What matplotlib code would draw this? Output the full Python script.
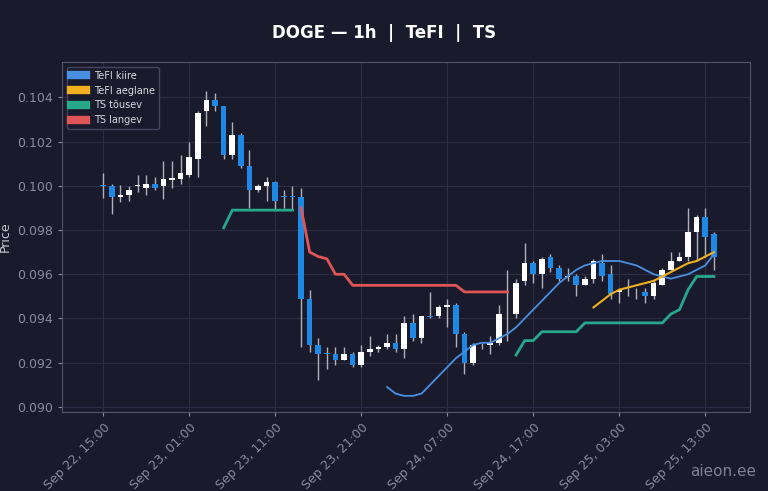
import matplotlib
matplotlib.use("Agg")
import matplotlib.pyplot as plt
import numpy as np
import pandas as pd

opens  = [0.1000,0.1000,0.0995,0.0996,0.09998,0.0999,0.1001,0.1000,0.10025,0.1003,0.1005,0.1012,0.1034,0.1039,0.1036,0.1014,0.1023,0.1009,0.0998,0.1000,0.10015,0.09952,0.09952,0.0995,
          0.0949,0.0928,0.0924,0.0924,0.0921,0.0924,0.0919,0.0925,0.0926,0.0927,0.0929,0.0926,0.0938,0.0931,0.09412,0.0941,0.0945,0.0946,0.0933,0.0920,0.09282,0.0928,0.0929,0.09422,
          0.0942,0.0957,0.0965,0.0960,0.0968,0.0963,0.09588,0.0959,0.0955,0.0958,0.0965,0.0960,0.0952,0.09518,0.09522,0.0952,0.0950,0.0955,0.0962,0.0966,0.0968,0.0979,0.0986,0.0978]
closes = [0.09998,0.0995,0.0996,0.0998,0.10002,0.10008,0.0999,0.1003,0.10035,0.1006,0.1013,0.1033,0.1039,0.1036,0.1014,0.1023,0.1009,0.0998,0.1000,0.10015,0.0993,0.09948,0.09948,0.0949,
          0.0928,0.0924,0.09238,0.0921,0.0924,0.0919,0.0925,0.0926,0.0927,0.0929,0.0926,0.0938,0.0931,0.0941,0.09408,0.0945,0.0946,0.0933,0.0920,0.0928,0.09278,0.0929,0.0942,0.09418,
          0.0956,0.0965,0.0960,0.0967,0.0963,0.0958,0.09592,0.0955,0.0958,0.0966,0.0959,0.0951,0.0953,0.09522,0.09518,0.0950,0.0956,0.0962,0.0966,0.0968,0.0979,0.0986,0.0977,0.0968]
highs  = [0.10057,0.1001,0.10002,0.1000,0.1005,0.1005,0.1004,0.1011,0.1011,0.1014,0.1020,0.1034,0.1043,0.1042,0.1036,0.1029,0.1024,0.1016,0.1001,0.1004,0.1002,0.0998,0.1000,0.0999,
          0.0953,0.0931,0.0927,0.0927,0.0927,0.0925,0.0928,0.0932,0.0928,0.0933,0.0933,0.0941,0.0942,0.0941,0.0952,0.0946,0.0949,0.0947,0.0934,0.0929,0.0929,0.0932,0.0946,0.0962,
          0.0958,0.0974,0.0966,0.0968,0.0969,0.0964,0.0963,0.0960,0.0959,0.0967,0.0969,0.0964,0.0954,0.0958,0.0954,0.0954,0.0958,0.0963,0.0970,0.0970,0.0990,0.0987,0.0990,0.0979]
lows   = [0.09944,0.09872,0.09926,0.0993,0.0997,0.0996,0.0998,0.0994,0.0999,0.1001,0.1004,0.1004,0.1027,0.1034,0.1012,0.1012,0.1008,0.0990,0.0997,0.0993,0.0989,0.0990,0.0989,0.0927,
          0.0925,0.0912,0.0917,0.0919,0.0921,0.0918,0.0918,0.0923,0.0925,0.0926,0.0925,0.0922,0.0930,0.0929,0.0940,0.0940,0.0936,0.0927,0.0915,0.0919,0.0926,0.0924,0.0928,0.0930,
          0.0940,0.0955,0.0956,0.0954,0.0961,0.0957,0.0957,0.0950,0.0955,0.0956,0.0957,0.0949,0.0947,0.0950,0.0949,0.0947,0.0949,0.0955,0.0962,0.0966,0.0966,0.0966,0.0968,0.0962]

times = pd.date_range("2024-09-22 15:00", periods=len(opens), freq="h")
idx = np.arange(len(opens))

ts_up_1_idx = list(range(14, 23))
ts_up_1 = [0.0981,0.0989,0.0989,0.0989,0.0989,0.0989,0.0989,0.0989,0.0989]
ts_up_2_idx = list(range(48, 72))
ts_up_2 = [0.09235,0.0930,0.0930,0.0934,0.0934,0.0934,0.0934,0.0934,0.0938,0.0938,0.0938,0.0938,
           0.0938,0.0938,0.0938,0.0938,0.0938,0.0938,0.0942,0.0944,0.0953,0.0959,0.0959,0.0959]
ts_down_idx = list(range(23, 48))
ts_down = [0.0990,0.0970,0.0968,0.0967,0.0960,0.0960,0.0955,0.0955,0.0955,0.0955,0.0955,0.0955,0.0955,
           0.0955,0.0955,0.0955,0.0955,0.0955,0.0955,0.0952,0.0952,0.0952,0.0952,0.0952,0.0952]
fast_idx = list(range(33, 72))
fast = [0.0909,0.0906,0.0905,0.0905,0.0906,0.0910,0.0914,0.0918,0.0922,0.0925,0.0928,0.0929,0.0929,0.0931,0.0933,
        0.0936,0.0940,0.0944,0.0948,0.0952,0.0956,0.0959,0.0962,0.0964,0.0965,0.0966,0.0966,0.0966,0.0965,0.0964,
        0.0962,0.0960,0.0959,0.0958,0.0959,0.0960,0.0962,0.0964,0.0969]
slow_idx = list(range(57, 72))
slow = [0.0945,0.0948,0.0951,0.0953,0.0954,0.0955,0.0956,0.0957,0.0959,0.0961,0.0963,0.0965,0.0966,0.0968,0.0970]

tick_idx = [0, 10, 20, 30, 40, 50, 60, 70]
tick_labels = [t.strftime("%b %d, %H:%M") for t in times[tick_idx]]

BG = "#191a2c"
fig = plt.figure(figsize=(7.68, 4.91), dpi=100, facecolor=BG)
ax = fig.add_axes([62/768, 1-412/491, (750-62)/768, (412-62)/491], facecolor=BG)

up_c, dn_c = "#ffffff", "#1e88e5"
for i in idx:
    o, c = opens[i], closes[i]
    col = up_c if c >= o else dn_c
    ax.vlines(i, lows[i], highs[i], color="#b0b0b8", lw=1.0, zorder=2)
    h = max(abs(c - o), 0.00004)
    ax.bar(i, h, bottom=min(o, c), width=0.65, color=col, zorder=3, linewidth=0)

ax.plot(fast_idx, fast, color="#4a90e2", lw=1.3, label="TeFI kiire", zorder=4)
ax.plot(slow_idx, slow, color="#f0b020", lw=1.5, label="TeFI aeglane", zorder=4)
ax.plot(ts_up_1_idx, ts_up_1, color="#26a98b", lw=2, label="TS tõusev", zorder=4)
ax.plot(ts_up_2_idx, ts_up_2, color="#26a98b", lw=2, zorder=4)
ax.plot(ts_down_idx, ts_down, color="#e05555", lw=2, label="TS langev", zorder=4)

ax.set_xlim(-4.8, 75.2)
ax.set_ylim(0.08977, 0.1056)
ax.set_xticks(tick_idx)
ax.set_xticklabels(tick_labels, rotation=45, ha="right", rotation_mode="anchor", color="#c8c8d0", fontsize=9)
ax.set_yticks([0.090, 0.092, 0.094, 0.096, 0.098, 0.100, 0.102, 0.104])
ax.set_yticklabels([f"{v:.3f}" for v in ax.get_yticks()], color="#c8c8d0", fontsize=9)
ax.tick_params(colors="#8a8a99", length=3)
ax.grid(True, color="#2c2d44", lw=0.8)
ax.set_axisbelow(True)
for s in ax.spines.values():
    s.set_color("#55566a")
ax.set_ylabel("Price", color="#c8c8d0", fontsize=9)

leg = ax.legend(loc="upper left", fontsize=7, facecolor=BG, edgecolor="#44455a", labelcolor="#d8d8e0",
                handlelength=1.6, handleheight=0.8, framealpha=1)
for h in leg.legend_handles:
    h.set_linewidth(6)

fig.text(0.5, 1-33/491, "DOGE — 1h  |  TeFI  |  TS", ha="center", va="center", color="white",
         fontsize=12, fontweight="bold")
fig.text(0.985, 0.04, "aieon.ee", ha="right", va="center", color="#9a9aa8", fontsize=11, alpha=0.8)

fig.savefig("out.png", dpi=100, facecolor=BG)
